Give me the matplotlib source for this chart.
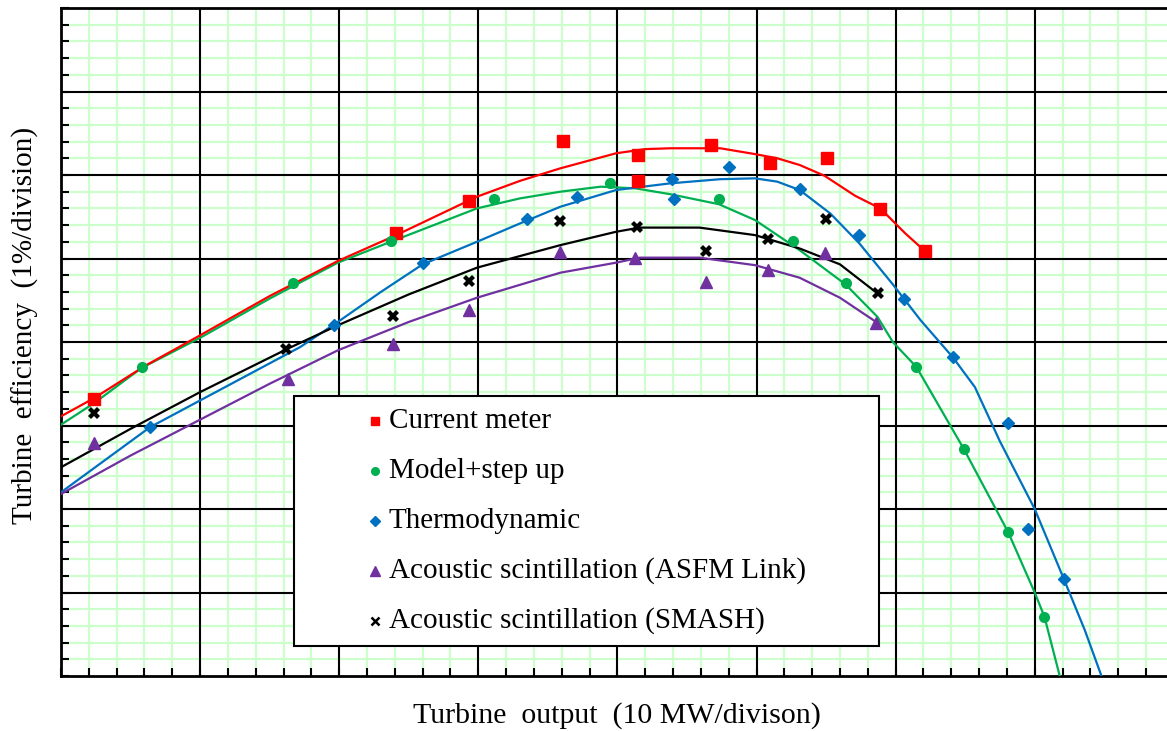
import matplotlib
matplotlib.use("Agg")
import matplotlib.pyplot as plt
from matplotlib.ticker import MultipleLocator, NullFormatter
from matplotlib.patches import Rectangle

plt.rcParams['font.family'] = ['Liberation Serif', 'DejaVu Serif']

# measured points (x: 10 MW/div, y: 1%/div)
current_x = [0.24, 2.41, 2.93, 3.61, 4.15, 4.15, 4.67, 5.10, 5.51, 5.89, 6.21]
current_y = [3.32, 5.31, 5.69, 6.41, 6.24, 5.93, 6.36, 6.14, 6.20, 5.59, 5.09]

model_x = [0.58, 1.67, 2.37, 3.11, 3.95, 4.73, 5.26, 5.64, 6.15, 6.49, 6.81, 7.07]
model_y = [3.70, 4.71, 5.21, 5.71, 5.90, 5.71, 5.21, 4.71, 3.70, 2.72, 1.72, 0.71]

thermo_x = [0.64, 1.96, 2.60, 3.35, 3.71, 4.39, 4.41, 4.80, 5.31, 5.74, 6.06, 6.41, 6.81, 6.95, 7.21]
thermo_y = [2.98, 4.20, 4.95, 5.47, 5.74, 5.95, 5.71, 6.10, 5.83, 5.28, 4.51, 3.82, 3.03, 1.76, 1.16]

asfm_x = [0.24, 1.63, 2.39, 2.93, 3.59, 4.13, 4.64, 5.08, 5.49, 5.86]
asfm_y = [2.79, 3.56, 3.98, 4.38, 5.08, 5.01, 4.72, 4.86, 5.07, 4.23]

smash_x = [0.24, 1.62, 2.39, 2.93, 3.59, 4.14, 4.64, 5.08, 5.50, 5.87]
smash_y = [3.15, 3.92, 4.31, 4.73, 5.45, 5.38, 5.09, 5.23, 5.47, 4.59]

# trend curves
current_fit_x = [0.0, 0.24, 0.6, 1.0, 1.5, 1.99, 2.41, 2.99, 3.3, 3.59, 3.99, 4.2, 4.38, 4.74, 4.99,
                 5.15, 5.31, 5.49, 5.71, 5.89, 6.07, 6.21]
current_fit_y = [3.11, 3.33, 3.71, 4.08, 4.55, 4.97, 5.28, 5.74, 5.93, 6.08, 6.26, 6.31, 6.32, 6.32, 6.25,
                 6.20, 6.12, 5.99, 5.75, 5.60, 5.30, 5.09]

model_fit_x = [0.0, 0.24, 0.58, 1.0, 1.5, 1.99, 2.37, 2.99, 3.3, 3.59, 3.88, 4.13, 4.38, 4.73, 4.99,
               5.31, 5.64, 5.87, 5.98, 6.15, 6.49, 6.81, 7.00, 7.07, 7.18]
model_fit_y = [3.01, 3.27, 3.69, 4.05, 4.52, 4.95, 5.20, 5.60, 5.72, 5.80, 5.86, 5.84, 5.77, 5.65, 5.46,
               5.10, 4.69, 4.30, 4.00, 3.70, 2.72, 1.72, 1.00, 0.71, 0.0]

thermo_fit_x = [0.0, 0.64, 1.0, 1.72, 1.99, 2.3, 2.60, 2.99, 3.3, 3.59, 3.99, 4.38, 4.74, 4.99, 5.15,
                5.31, 5.53, 5.74, 5.98, 6.18, 6.41, 6.57, 6.75, 7.00, 7.21, 7.36, 7.48]
thermo_fit_y = [2.20, 2.98, 3.30, 3.94, 4.24, 4.60, 4.93, 5.20, 5.42, 5.62, 5.82, 5.90, 5.95, 5.96, 5.92,
                5.82, 5.54, 5.18, 4.69, 4.26, 3.82, 3.46, 2.81, 2.00, 1.16, 0.55, 0.0]

smash_fit_x = [0.0, 0.5, 1.0, 1.63, 1.99, 2.5, 2.99, 3.59, 3.99, 4.16, 4.59, 4.99, 5.31, 5.60, 5.84]
smash_fit_y = [2.50, 2.96, 3.40, 3.92, 4.20, 4.57, 4.89, 5.16, 5.32, 5.37, 5.37, 5.28, 5.12, 4.93, 4.62]

asfm_fit_x = [0.0, 0.5, 1.0, 1.5, 1.99, 2.5, 2.99, 3.59, 3.99, 4.16, 4.59, 4.99, 5.31, 5.60, 5.86]
asfm_fit_y = [2.18, 2.64, 3.07, 3.50, 3.90, 4.24, 4.53, 4.83, 4.95, 5.01, 5.01, 4.92, 4.77, 4.53, 4.24]

labels = ['Current meter', 'Model+step up', 'Thermodynamic',
          'Acoustic scintillation (ASFM Link)', 'Acoustic scintillation (SMASH)']
colors = ['#ff0000', '#00b050', '#0070c0', '#7030a0', '#000000']

fig = plt.figure(figsize=(11.67, 7.31), dpi=100)
ax = fig.add_axes([61 / 1167, 55 / 731, (1167 - 61) / 1167, (676 - 8) / 731])

ax.set_xlim(0, (1167 - 61) / 139.1)
ax.set_ylim(0, 8)
ax.xaxis.set_major_locator(MultipleLocator(1))
ax.xaxis.set_minor_locator(MultipleLocator(0.2))
ax.yaxis.set_major_locator(MultipleLocator(1))
ax.yaxis.set_minor_locator(MultipleLocator(0.2))
ax.xaxis.set_major_formatter(NullFormatter())
ax.yaxis.set_major_formatter(NullFormatter())
ax.grid(which='minor', color='#ccffcc', linewidth=1.6, zorder=0.5)
ax.set_axisbelow(True)
# black major grid drawn above the green minor grid
for v in range(1, 8):
    ax.axvline(v, color='black', linewidth=1.5, zorder=1)
for h in range(1, 8):
    ax.axhline(h, color='black', linewidth=1.5, zorder=1)
ax.tick_params(which='both', direction='in', length=6, width=1.5, color='black')
for s in ['left', 'bottom', 'top']:
    ax.spines[s].set_linewidth(2)
ax.spines['right'].set_visible(False)

# curves (red on top, as in the original)
ax.plot(model_fit_x, model_fit_y, color=colors[1], lw=1.6, zorder=3)
ax.plot(thermo_fit_x, thermo_fit_y, color=colors[2], lw=1.6, zorder=3)
ax.plot(asfm_fit_x, asfm_fit_y, color=colors[3], lw=1.6, zorder=3)
ax.plot(smash_fit_x, smash_fit_y, color=colors[4], lw=1.6, zorder=3)
ax.plot(current_fit_x, current_fit_y, color=colors[0], lw=1.6, zorder=3.1)

# points
ax.plot(current_x, current_y, 's', color=colors[0], ms=8, zorder=4)
ax.plot(model_x, model_y, 'o', color=colors[1], ms=7, zorder=4)
ax.plot(thermo_x, thermo_y, 'D', color=colors[2], ms=6.5, zorder=4)
ax.plot(asfm_x, asfm_y, '^', color=colors[3], ms=9, zorder=4)
ax.plot(smash_x, smash_y, 'X', color=colors[4], ms=9, mew=0, zorder=4)

# legend box
box = Rectangle(((294 - 61) / 139.1, (676 - 646) / 83.5), (879 - 294) / 139.1, (646 - 396) / 83.5,
                facecolor='white', edgecolor='black', linewidth=1.5, zorder=6)
ax.add_patch(box)
leg_markers = ['s', 'o', 'D', '^', 'x']
leg_sizes = [6, 5.5, 5.5, 7, 6]
for i, (lab, c, m, s) in enumerate(zip(labels, colors, leg_markers, leg_sizes)):
    yy = (676 - (421 + 50 * i)) / 83.5
    ax.plot([(375 - 61) / 139.1], [yy], m, color=c, ms=s, mew=1.8 if m == 'x' else 1, zorder=7)
    ax.text((389 - 61) / 139.1, yy, lab, fontsize=21, va='center', ha='left', zorder=7)

fig.text(617 / 1167, 1 - 716 / 731, 'Turbine  output  (10 MW/divison)', fontsize=21.5,
         ha='center', va='center')
fig.text(25 / 1167, 1 - 325 / 731, 'Turbine  efficiency  (1%/division)', fontsize=21,
         ha='center', va='center', rotation=90)

fig.savefig('out.png', dpi=100)
